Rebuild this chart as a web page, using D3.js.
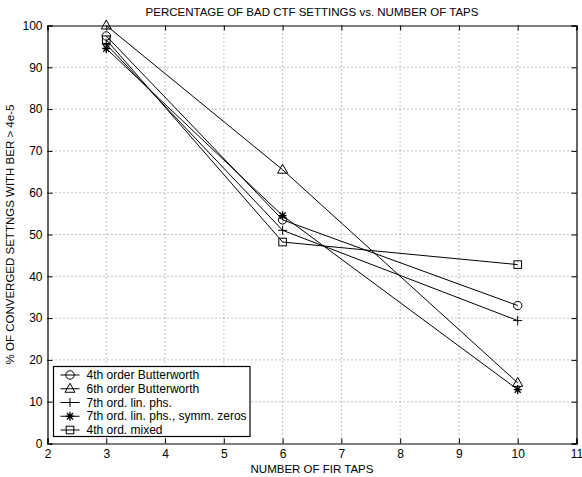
<!DOCTYPE html>
<html><head><meta charset="utf-8">
<script src="https://cdn.jsdelivr.net/npm/d3@7"></script>
<style>body{margin:0;background:#fff}svg{display:block}text{font-family:"Liberation Sans",Arial,sans-serif;fill:#000}</style>
</head><body><svg id="c" width="582" height="477"></svg>
<script>
const taps = [3, 6, 10];
const seriesNames = ["4th order Butterworth","6th order Butterworth","7th ord. lin. phs.","7th ord. lin. phs., symm. zeros","4th ord. mixed"];
const markers = ["circle","triangle","plus","star","square"];
const butter4 = [97.5, 53.5, 33.0];
const butter6 = [100, 65.5, 14.5];
const linphs7 = [95.5, 51.0, 29.4];
const linphs7sym = [94.5, 54.5, 12.9];
const mixed4 = [96.6, 48.2, 42.8];
const seriesValues = [butter4, butter6, linphs7, linphs7sym, mixed4];
const xTicks = [2,3,4,5,6,7,8,9,10,11];
const yTicks = [0,10,20,30,40,50,60,70,80,90,100];
const title = "PERCENTAGE OF BAD CTF SETTINGS vs. NUMBER OF TAPS";
const xLabel = "NUMBER OF FIR TAPS";
const yLabel = "% OF CONVERGED SETTNGS WITH BER > 4e-5";

const svg = d3.select("#c");
const L=47.5, R=576.5, T=25.5, B=443.5;
const x = d3.scaleLinear().domain([2,11]).range([L,R]);
const y = d3.scaleLinear().domain([0,100]).range([B,T]);

// grid
const g = svg.append("g");
g.selectAll(".gx").data(xTicks.slice(1,-1)).join("line")
 .attr("x1",d=>x(d)).attr("x2",d=>x(d)).attr("y1",T).attr("y2",B)
 .attr("stroke","#888").attr("stroke-width",1).attr("stroke-dasharray","1,3");
g.selectAll(".gy").data(yTicks.slice(1,-1)).join("line")
 .attr("y1",d=>y(d)).attr("y2",d=>y(d)).attr("x1",L).attr("x2",R)
 .attr("stroke","#888").attr("stroke-width",1).attr("stroke-dasharray","1,3");

// axes
const fs = "12px";
const ax = svg.append("g").attr("transform",`translate(0,${B})`)
 .call(d3.axisBottom(x).tickValues(xTicks).tickSize(-5).tickPadding(5.5).tickFormat(d3.format("d")));
const ay = svg.append("g").attr("transform",`translate(${L},0)`)
 .call(d3.axisLeft(y).tickValues(yTicks).tickSize(-5).tickPadding(5).tickFormat(d3.format("d")));
const at = svg.append("g").attr("transform",`translate(0,${T})`)
 .call(d3.axisTop(x).tickValues(xTicks).tickSize(-5).tickFormat(""));
const ar = svg.append("g").attr("transform",`translate(${R},0)`)
 .call(d3.axisRight(y).tickValues(yTicks).tickSize(-5).tickFormat(""));
[ax,ay,at,ar].forEach(a=>{
  a.selectAll("path").attr("stroke","#000").attr("stroke-width",1.2);
  a.selectAll("line").attr("stroke","#000");
  a.selectAll("text").attr("font-size",fs).attr("font-family","Liberation Sans, Arial, sans-serif").attr("fill","#000");
});

// symbols (unfilled, as in the reference)
function drawMarker(sel, type, cx, cy){
  const s = sel.append("g").attr("transform",`translate(${cx},${cy})`).attr("fill","none").attr("stroke","#000").attr("stroke-width",1);
  if(type==="circle") s.append("circle").attr("r",4.2);
  else if(type==="triangle") s.append("path").attr("d","M0,-5.5L5,3.5L-5,3.5Z");
  else if(type==="square") s.append("rect").attr("x",-3.8).attr("y",-3.8).attr("width",7.6).attr("height",7.6);
  else if(type==="plus") s.append("path").attr("d","M-4.5,0H4.5M0,-4.5V4.5");
  else if(type==="star") s.append("path").attr("d","M-4,0H4M0,-4.5V4.5M-3,-3.2L3,3.2M-3,3.2L3,-3.2").attr("stroke-width",1.3);
}

const line = d3.line().x((d,i)=>x(taps[i])).y(d=>y(d));
const plot = svg.append("g");
seriesValues.forEach((vals,k)=>{
  plot.append("path").attr("d",line(vals)).attr("fill","none").attr("stroke","#000").attr("stroke-width",1);
});
seriesValues.forEach((vals,k)=>{
  vals.forEach((v,i)=>drawMarker(plot, markers[k], x(taps[i]), y(v)));
});

// legend
const lg = svg.append("g");
const lx=53.5, ly=366.5, lw=196.5, lh=70;
lg.append("rect").attr("x",lx).attr("y",ly).attr("width",lw).attr("height",lh).attr("fill","#fff").attr("stroke","#000").attr("stroke-width",1.2);
seriesNames.forEach((n,k)=>{
  const cy = 375 + k*13.75;
  lg.append("line").attr("x1",60.5).attr("x2",79.5).attr("y1",cy).attr("y2",cy).attr("stroke","#000");
  drawMarker(lg, markers[k], 70, cy);
  lg.append("text").attr("x",86.5).attr("y",cy).attr("dy","0.35em").attr("font-size",fs).text(n);
});

// titles
svg.append("text").attr("x",(L+R)/2).attr("y",16).attr("text-anchor","middle").attr("font-size","11.5px").text(title);
svg.append("text").attr("x",(L+R)/2).attr("y",473).attr("text-anchor","middle").attr("font-size","11.5px").text(xLabel);
svg.append("text").attr("transform",`translate(13.5,${(T+B)/2}) rotate(-90)`).attr("text-anchor","middle").attr("font-size","11.5px").text(yLabel);
</script></body></html>
